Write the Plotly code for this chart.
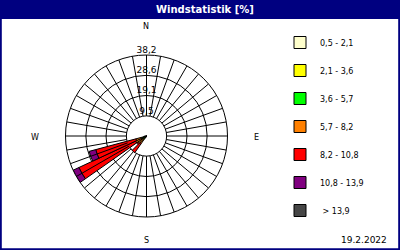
import plotly.graph_objects as go

# ---- data ----
directions = [210, 220, 230, 240, 250, 260]
classes = ["0,5 - 2,1", "2,1 - 3,6", "3,6 - 5,7", "5,7 - 8,2", "8,2 - 10,8", "10,8 - 13,9", " > 13,9"]
c1 = [0.2, 0.5, 0.5, 0.7, 0.6, 0.2]
c2 = [0.2, 0.6, 0.6, 0.8, 0.7, 0.2]
c3 = [0.2, 0.8, 0.9, 1.0, 0.9, 0.3]
c4 = [0.4, 2.4, 3.0, 3.2, 3.0, 0.5]
c5 = [0.0, 5.3, 0.6, 29.5, 19.6, 0.0]
c6 = [0.0, 0.0, 0.0, 3.0, 3.2, 0.0]
c7 = [0.0, 0.0, 0.0, 0.0, 0.0, 0.0]
series = [c1, c2, c3, c4, c5, c6, c7]
colors = ["#FFFFCC", "#FFFF00", "#00FF00", "#FF8000", "#FF0000", "#800080", "#464646"]
radial_ticks = [9.5, 19.1, 28.6, 38.2]
radial_labels = ["9,5", "19,1", "28,6", "38,2"]
spoke_angles = list(range(0, 360, 10))
compass = ["N", "E", "S", "W"]
date_text = "19.2.2022"
title_text = "Windstatistik [%]"

FONT = "DejaVu Sans"
fig = go.Figure()

# spokes from inner ring to outer ring
sr, st = [], []
for a in spoke_angles:
    sr += [radial_ticks[0], radial_ticks[-1], None]
    st += [a, a, None]
fig.add_trace(go.Scatterpolar(r=sr, theta=st, mode="lines",
                              line=dict(color="black", width=1),
                              showlegend=False, hoverinfo="skip"))

for name, vals, col in zip(classes, series, colors):
    fig.add_trace(go.Barpolar(r=vals, theta=directions, width=10, name=name,
                              legendgroup=name,
                              marker=dict(color=col, line=dict(color="black", width=1))))

fig.add_trace(go.Scatterpolar(r=radial_ticks, theta=[0] * len(radial_ticks),
                              mode="text", text=radial_labels,
                              textposition="top center",
                              textfont=dict(family=FONT, size=9, color="black"),
                              showlegend=False, hoverinfo="skip"))

cx, cy, R = 146.5, 136, 81
W, H = 400, 250
fig.update_layout(
    width=W, height=H, margin=dict(l=0, r=0, t=0, b=0),
    paper_bgcolor="white", plot_bgcolor="white",
    font=dict(family=FONT, size=8, color="black"),
    polar=dict(
        domain=dict(x=[(cx - R) / W, (cx + R) / W], y=[(H - cy - R) / H, (H - cy + R) / H]),
        bgcolor="white", barmode="stack", hole=0,
        angularaxis=dict(direction="clockwise", rotation=90, showgrid=False,
                         showticklabels=False, ticks="", showline=True,
                         linecolor="black", linewidth=1),
        radialaxis=dict(range=[0, radial_ticks[-1]], tickvals=radial_ticks[:-1],
                        showticklabels=False, ticks="", showline=False,
                        gridcolor="black", gridwidth=1),
    ),
    legend=dict(x=0.70, y=1 - 28 / H, xanchor="left", yanchor="top",
                bgcolor="rgba(0,0,0,0)", tracegroupgap=9,
                font=dict(family=FONT, size=8, color="black")),
    shapes=[
        dict(type="rect", xref="paper", yref="paper", x0=0, x1=1, y0=1 - 19 / H, y1=1,
             fillcolor="#000080", line=dict(width=0), layer="above"),
        dict(type="rect", xref="paper", yref="paper", x0=0.002, x1=0.998, y0=0.003, y1=0.997,
             line=dict(color="#000080", width=2), layer="above"),
    ],
)

ann = [dict(x=205 / W, y=1 - 9.5 / H, text="<b>" + title_text + "</b>", showarrow=False,
            xanchor="center", yanchor="middle",
            xref="paper", yref="paper", font=dict(family=FONT, size=10, color="white")),
       dict(x=364 / W, y=1 - 240 / H, text=date_text, showarrow=False,
            xanchor="center", yanchor="middle",
            xref="paper", yref="paper", font=dict(family=FONT, size=9, color="black"))]
pos = {"N": (146, 27), "E": (256, 137), "S": (146, 240), "W": (35, 137)}
for c in compass:
    px, py = pos[c]
    ann.append(dict(x=px / W, y=1 - py / H, text=c, showarrow=False,
                    xanchor="center", yanchor="middle",
                    xref="paper", yref="paper", font=dict(family=FONT, size=8, color="black")))
fig.update_layout(annotations=ann)

fig.write_html("out.html")
